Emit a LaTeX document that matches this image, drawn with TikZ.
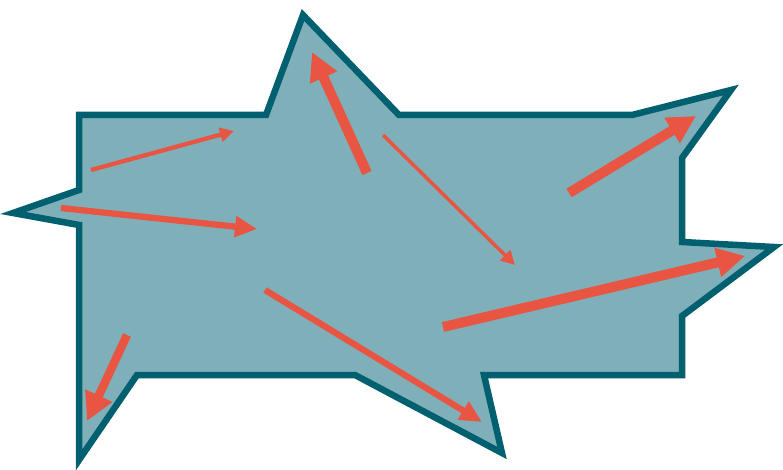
\documentclass[tikz,border=0pt]{standalone}
\usetikzlibrary{arrows.meta}
\definecolor{shapefill}{HTML}{7FB0B9}
\definecolor{shapeline}{HTML}{00606F}
\definecolor{arrowred}{HTML}{E85542}
\tikzset{
  blob/.style={fill=shapefill, draw=shapeline, line width=6.5pt, line join=miter, miter limit=20},
  thinarrow/.style={draw=arrowred, line width=4.3pt, -{Triangle[length=14pt,width=14pt]}},
  midarrow/.style={draw=arrowred, line width=6.3pt, -{Triangle[length=22pt,width=20pt]}},
  thickarrow/.style={draw=arrowred, line width=10pt, -{Triangle[length=28pt,width=28pt]}}
}
\begin{document}
\begin{tikzpicture}[x=1pt,y=-1pt]
\useasboundingbox (0,0) rectangle (783,470);
\draw[blob] (79,115) -- (266,115) -- (303,15) -- (399,115) -- (632,115) -- (731,90)
  -- (682,158) -- (682,242) -- (774,247) -- (682,316) -- (682,375) -- (484,375)
  -- (502,453) -- (355,375) -- (137,375) -- (79,460) -- (79,225) -- (13,213)
  -- (79,190) -- cycle;
\coordinate (a1s) at (91,170);  \coordinate (a1e) at (234,131);
\coordinate (a2s) at (61,208);  \coordinate (a2e) at (257,229);
\coordinate (a3s) at (367,173); \coordinate (a3e) at (312,52);
\coordinate (a4s) at (383,135); \coordinate (a4e) at (515,265);
\coordinate (a5s) at (569,193); \coordinate (a5e) at (696,116);
\coordinate (a6s) at (443,327); \coordinate (a6e) at (745,256);
\coordinate (a7s) at (265,290); \coordinate (a7e) at (482,422);
\coordinate (a8s) at (127,335); \coordinate (a8e) at (87,421);
\draw[thinarrow] (a1s) -- (a1e);
\draw[midarrow] (a2s) -- (a2e);
\draw[thickarrow] (a3s) -- (a3e);
\draw[thinarrow, line width=3.5pt] (a4s) -- (a4e);
\draw[thickarrow] (a5s) -- (a5e);
\draw[thickarrow] (a6s) -- (a6e);
\draw[midarrow] (a7s) -- (a7e);
\draw[thickarrow, line width=8.5pt] (a8s) -- (a8e);
\end{tikzpicture}
\end{document}
